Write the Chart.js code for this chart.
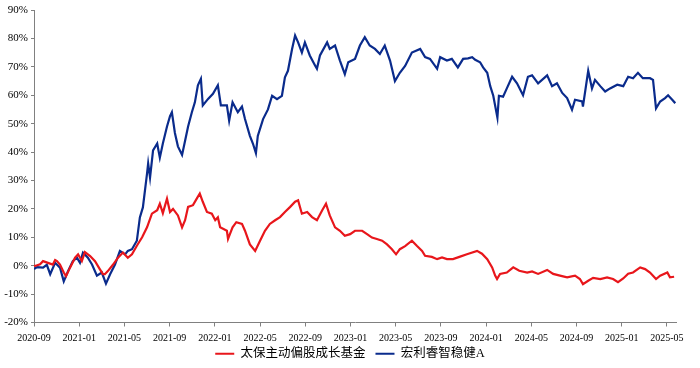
<!DOCTYPE html>
<html>
<head>
<meta charset="utf-8">
<script src="https://cdn.jsdelivr.net/npm/chart.js@4.4.1/dist/chart.umd.min.js"></script>
<style>
    body { margin: 0; background: #fff; }
    #chart { display: block; }
</style>
</head>
<body>
<canvas id="chart" width="700" height="368"></canvas>
<script>
// series names
const seriesNames = ['太保主动偏股成长基金', '宏利睿智稳健A'];

// x tick labels, every 4 months from 2020-09
const tickLabels = ['2020-09', '2021-01', '2021-05', '2021-09', '2022-01', '2022-05', '2022-09', '2023-01',
    '2023-05', '2023-09', '2024-01', '2024-05', '2024-09', '2025-01', '2025-05'];

// 太保主动偏股成长基金 (cumulative return, %)
const redDates = ['2020-09-01', '2020-09-04', '2020-09-17', '2020-09-25', '2020-10-08', '2020-10-21', '2020-10-27',
    '2020-11-02', '2020-11-10', '2020-11-20', '2020-11-26', '2020-12-07', '2020-12-20', '2020-12-28',
    '2021-01-08', '2021-01-16', '2021-01-30', '2021-02-13', '2021-02-26', '2021-03-04', '2021-03-09',
    '2021-03-17', '2021-03-31', '2021-04-14', '2021-04-27', '2021-05-10', '2021-05-21', '2021-06-04',
    '2021-06-18', '2021-07-01', '2021-07-14', '2021-07-28', '2021-08-05', '2021-08-13', '2021-08-24',
    '2021-09-02', '2021-09-10', '2021-09-23', '2021-10-04', '2021-10-12', '2021-10-20', '2021-11-03',
    '2021-11-13', '2021-11-21', '2021-11-29', '2021-12-10', '2021-12-23', '2022-01-02', '2022-01-09',
    '2022-01-15', '2022-02-03', '2022-02-06', '2022-02-18', '2022-02-28', '2022-03-13', '2022-03-21',
    '2022-04-04', '2022-04-18', '2022-05-01', '2022-05-14', '2022-05-27', '2022-06-11', '2022-06-24',
    '2022-07-07', '2022-07-21', '2022-08-04', '2022-08-12', '2022-08-22', '2022-09-06', '2022-09-19',
    '2022-10-02', '2022-10-16', '2022-10-26', '2022-11-06', '2022-11-20', '2022-12-03', '2022-12-16',
    '2022-12-30', '2023-01-13', '2023-02-02', '2023-02-15', '2023-02-28', '2023-03-11', '2023-03-25',
    '2023-04-08', '2023-04-21', '2023-05-02', '2023-05-12', '2023-05-26', '2023-06-14', '2023-06-27',
    '2023-07-11', '2023-07-19', '2023-08-07', '2023-08-21', '2023-09-04', '2023-09-17', '2023-10-03',
    '2023-10-22', '2023-11-10', '2023-12-07', '2023-12-20', '2024-01-04', '2024-01-17', '2024-01-25',
    '2024-01-30', '2024-02-08', '2024-02-26', '2024-03-13', '2024-03-29', '2024-04-20', '2024-05-03',
    '2024-05-19', '2024-06-13', '2024-06-29', '2024-07-17', '2024-08-06', '2024-08-27', '2024-09-10',
    '2024-09-18', '2024-10-02', '2024-10-15', '2024-11-04', '2024-11-22', '2024-12-08', '2024-12-21',
    '2025-01-05', '2025-01-18', '2025-02-01', '2025-02-20', '2025-03-03', '2025-03-16', '2025-04-02',
    '2025-04-13', '2025-05-02', '2025-05-09', '2025-05-20'];
const redValues = [0, -0.1, 0.5, 1.6, 1.0, 0.4, 2.0,
    1.6, 0.4, -2.4, -3.7, -0.6, 2.8, 4.0,
    1.6, 4.8, 3.4, 1.6, -1.3, -3.0, -3.0,
    -1.9, 0.4, 2.8, 4.6, 2.8, 4.0, 7.0,
    10.0, 13.5, 18.3, 19.5, 21.8, 18.5, 23.6,
    18.9, 20.0, 17.7, 13.5, 16.0, 20.7, 21.3,
    23.6, 25.4, 22.5, 18.9, 18.3, 16.0, 17.0,
    13.5, 12.3, 9.4, 13.5, 15.3, 14.7, 12.3,
    7.5, 5.2, 8.8, 12.3, 14.7, 16.0, 17.1,
    18.9, 20.7, 22.5, 23.0, 18.3, 18.9, 17.1,
    16.0, 19.5, 21.8, 17.7, 13.5, 12.3, 10.5,
    11.1, 12.3, 12.3, 11.1, 9.9, 9.4, 8.8,
    7.5, 5.8, 4.0, 5.8, 6.9, 8.8, 7.0,
    5.2, 3.5, 3.1, 2.3, 2.9, 2.3, 2.3,
    3.2, 4.0, 5.2, 4.2, 2.3, -0.6, -3.5,
    -4.7, -2.9, -2.4, -0.6, -1.8, -2.4, -2.0,
    -2.9, -1.5, -2.9, -3.5, -4.1, -3.5, -4.7,
    -6.5, -5.3, -4.3, -4.7, -4.1, -4.7, -5.8,
    -4.5, -2.8, -2.4, -0.6, -1.2, -2.4, -4.7,
    -3.5, -2.4, -4.1, -3.9];

// 宏利睿智稳健A (cumulative return, %)
const blueDates = ['2020-09-01', '2020-09-09', '2020-09-25', '2020-10-05', '2020-10-14', '2020-10-27', '2020-11-10',
    '2020-11-20', '2020-12-01', '2020-12-14', '2020-12-25', '2021-01-03', '2021-01-11', '2021-01-24',
    '2021-02-05', '2021-02-18', '2021-03-01', '2021-03-12', '2021-03-23', '2021-04-06', '2021-04-19',
    '2021-05-03', '2021-05-10', '2021-05-21', '2021-06-04', '2021-06-12', '2021-06-20', '2021-07-01',
    '2021-07-04', '2021-07-09', '2021-07-17', '2021-07-28', '2021-08-05', '2021-08-13', '2021-08-24',
    '2021-09-02', '2021-09-07', '2021-09-15', '2021-09-23', '2021-10-04', '2021-10-12', '2021-10-20',
    '2021-10-30', '2021-11-08', '2021-11-16', '2021-11-24', '2021-11-29', '2021-12-13', '2021-12-26',
    '2022-01-09', '2022-01-17', '2022-02-03', '2022-02-09', '2022-02-18', '2022-03-02', '2022-03-13',
    '2022-03-21', '2022-04-04', '2022-04-12', '2022-04-20', '2022-04-25', '2022-05-09', '2022-05-22',
    '2022-06-03', '2022-06-16', '2022-06-29', '2022-07-07', '2022-07-15', '2022-07-26', '2022-08-04',
    '2022-08-12', '2022-08-22', '2022-08-30', '2022-09-13', '2022-09-27', '2022-10-02', '2022-10-10',
    '2022-10-29', '2022-11-06', '2022-11-20', '2022-12-03', '2022-12-16', '2022-12-25', '2023-01-13',
    '2023-01-26', '2023-02-09', '2023-02-22', '2023-03-06', '2023-03-19', '2023-04-02', '2023-04-16',
    '2023-04-29', '2023-05-12', '2023-05-26', '2023-06-14', '2023-07-06', '2023-07-19', '2023-08-02',
    '2023-08-21', '2023-08-29', '2023-09-17', '2023-09-30', '2023-10-16', '2023-10-30', '2023-11-13',
    '2023-11-24', '2023-12-02', '2023-12-15', '2023-12-23', '2024-01-04', '2024-01-12', '2024-01-20',
    '2024-01-31', '2024-02-05', '2024-02-16', '2024-02-26', '2024-03-10', '2024-03-23', '2024-04-09',
    '2024-04-22', '2024-05-03', '2024-05-19', '2024-06-13', '2024-06-26', '2024-07-09', '2024-07-23',
    '2024-08-06', '2024-08-19', '2024-08-27', '2024-09-16', '2024-09-18', '2024-10-02', '2024-10-12',
    '2024-10-20', '2024-11-04', '2024-11-17', '2024-11-30', '2024-12-19', '2025-01-05', '2025-01-18',
    '2025-02-01', '2025-02-14', '2025-02-27', '2025-03-16', '2025-03-24', '2025-04-02', '2025-04-13',
    '2025-04-26', '2025-05-04', '2025-05-15', '2025-05-23'];
const blueValues = [-1.2, -0.5, -0.7, 0.3, -3.0, 1.0, -0.7,
    -5.5, -2.0, 1.6, 2.8, 1.0, 4.6, 2.8,
    0.4, -3.5, -2.4, -6.3, -3.0, 0.4, 5.2,
    4.0, 5.2, 5.8, 8.8, 17.0, 20.5, 32.4,
    36.0, 31.0, 40.6, 43.0, 38.0, 43.0, 49.0,
    52.6, 54.0, 46.7, 42.0, 39.0, 44.0, 49.0,
    54.0, 57.5, 63.5, 65.8, 56.4, 58.7, 60.5,
    63.5, 56.4, 56.4, 51.0, 57.5, 54.0, 56.0,
    51.6, 45.7, 43.0, 39.6, 45.7, 51.6, 55.0,
    59.8, 58.6, 59.8, 66.3, 68.6, 76.3, 81.0,
    78.6, 75.0, 78.6, 74.0, 70.5, 69.3, 74.0,
    78.6, 76.3, 77.5, 72.2, 67.4, 71.6, 72.8,
    77.5, 80.4, 77.5, 76.3, 74.5, 77.5, 72.2,
    65.0, 67.9, 70.3, 75.0, 76.3, 73.4, 72.8,
    69.3, 73.4, 72.2, 72.8, 69.8, 72.8, 73.0,
    73.4, 72.5, 71.6, 69.8, 67.9, 63.2, 59.8,
    52.1, 59.8, 59.5, 62.4, 66.5, 64.2, 60.0,
    66.5, 67.0, 64.2, 67.0, 63.2, 64.2, 60.8,
    59.0, 54.9, 58.4, 57.8, 56.0, 68.6, 62.4,
    65.4, 63.2, 61.3, 62.4, 63.7, 63.2, 66.5,
    66.0, 67.9, 66.0, 66.0, 65.4, 55.4, 57.8,
    59.0, 60.0, 58.4, 57.2];

const RED = '#E8161B';
const BLUE = '#0A2B8C';
const AXIS = '#808080';
const FONT = "'Liberation Serif', 'Times New Roman', 'Noto Sans CJK SC', serif";

// months since 2020-09-01
function toMonths (dateStr) {
    const [y, m, d] = dateStr.split('-').map(Number);
    return (y - 2020) * 12 + (m - 9) + (d - 1) / 30;
}

function toPoints (dates, values) {
    return dates.map((one, i) => ({ x: toMonths(one), y: values[i] }));
}

// nudge the legend up and centre it on the canvas
const legendNudge = {
    id: 'legendNudge',
    afterLayout (chart) {
        const legend = chart.legend;
        legend.top -= 13;
        legend.bottom -= 13;
        legend.left += 10;
        legend.right += 10;
    }
};

new Chart(
    document.getElementById('chart'),
    {
        type: 'line',
        data: {
            datasets: [
                {
                    label: seriesNames[0],
                    data: toPoints(redDates, redValues),
                    borderColor: RED,
                    backgroundColor: RED,
                    borderWidth: 2.2,
                    pointRadius: 0,
                    tension: 0
                },
                {
                    label: seriesNames[1],
                    data: toPoints(blueDates, blueValues),
                    borderColor: BLUE,
                    backgroundColor: BLUE,
                    borderWidth: 2.2,
                    pointRadius: 0,
                    tension: 0
                }
            ]
        },
        options: {
            responsive: false,
            animation: false,
            layout: {
                padding: { left: 4, right: 24, top: 10, bottom: -15 }
            },
            plugins: {
                legend: {
                    position: 'bottom',
                    labels: {
                        usePointStyle: true,
                        pointStyle: 'line',
                        pointStyleWidth: 19,
                        color: '#000',
                        padding: 10,
                        font: { family: FONT, size: 12.5 }
                    }
                },
                tooltip: { enabled: false }
            },
            scales: {
                x: {
                    type: 'linear',
                    min: 0,
                    max: 56.8,
                    afterBuildTicks: (scale) => {
                        scale.ticks = tickLabels.map((one, i) => ({ value: i * 4 }));
                    },
                    ticks: {
                        autoSkip: false,
                        maxRotation: 0,
                        color: '#000',
                        padding: 6,
                        font: { family: FONT, size: 10 },
                        callback: (value) => tickLabels[Math.round(value / 4)]
                    },
                    grid: {
                        drawOnChartArea: false,
                        color: AXIS,
                        tickLength: 4
                    },
                    border: { color: AXIS, width: 1 }
                },
                y: {
                    min: -20,
                    max: 90,
                    ticks: {
                        stepSize: 10,
                        color: '#000',
                        padding: 3,
                        font: { family: FONT, size: 11 },
                        callback: (value) => value + '%'
                    },
                    afterFit: (scale) => {
                        scale.width = 30;
                    },
                    grid: {
                        drawOnChartArea: false,
                        color: AXIS,
                        tickLength: 3
                    },
                    border: { color: AXIS, width: 1 }
                }
            }
        },
        plugins: [legendNudge]
    }
);
</script>
</body>
</html>
